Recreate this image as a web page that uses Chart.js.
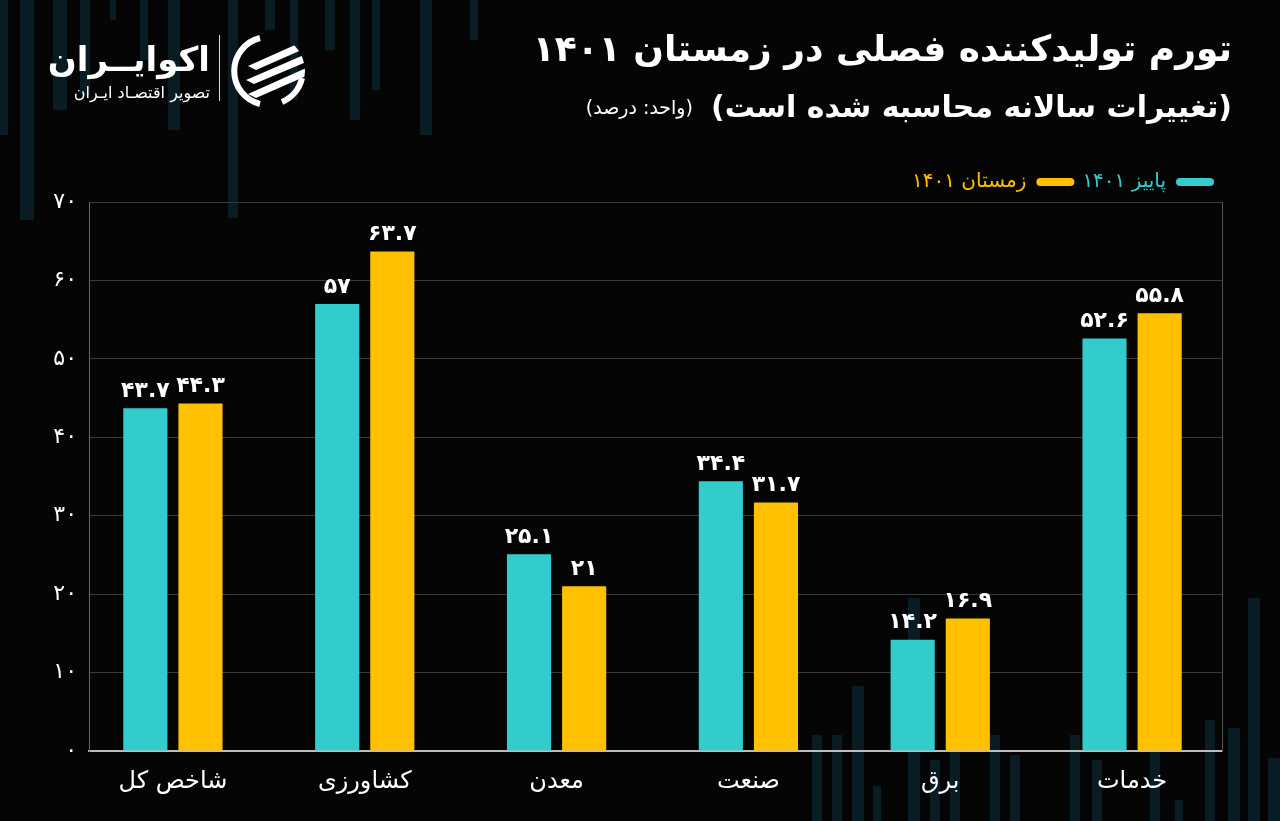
<!DOCTYPE html>
<html lang="fa">
<head>
<meta charset="utf-8">
<title>تورم تولیدکننده فصلی</title>
<script src="https://cdn.jsdelivr.net/npm/chart.js@4"></script>
<style>
  html, body { margin: 0; padding: 0; background: #050505; }
  #wrap { position: relative; width: 1280px; height: 821px; overflow: hidden; background: #050505; font-family: "DejaVu Sans", sans-serif; }
  #chart { position: absolute; left: 0; top: 0; }
  .deco { position: absolute; background: #0a1c23; }
  .title { position: absolute; right: 48px; top: 28px; color: #fff; font-weight: bold; font-size: 36px; direction: rtl; white-space: nowrap; }
  .subtitle { position: absolute; right: 48px; top: 89px; color: #fff; font-weight: bold; font-size: 30px; direction: rtl; white-space: nowrap; }
  .subtitle small { font-size: 19px; font-weight: normal; margin-right: 18px; vertical-align: 3px; }
  .brand { position: absolute; left: 40px; top: 36px; color: #fff; direction: rtl; text-align: right; width: 170px; }
  .brand .name { font-size: 34px; font-weight: bold; line-height: 46px; white-space: nowrap; }
  .brand .tag { font-size: 16px; line-height: 22px; white-space: nowrap; }
  .sep { position: absolute; left: 219px; top: 35px; width: 1px; height: 66px; background: #ddd; }
  #logo { position: absolute; left: 230px; top: 32px; }
</style>
</head>
<body>
<div id="wrap">
  <div id="decoLayer"></div>
  <canvas id="chart" width="1280" height="821"></canvas>
  <div class="brand"><div class="name">اکوایــران</div><div class="tag">تصویر اقتصـاد ایـران</div></div>
  <div class="sep"></div>
  <svg id="logo" width="78" height="78" viewBox="0 0 78 78">
    <defs><clipPath id="c"><circle cx="39" cy="39" r="36"/></clipPath></defs>
    <path d="M30 6 A34 34 0 0 0 30 72" fill="none" stroke="#fff" stroke-width="6"/>
    <path d="M52 70 A34 34 0 0 0 72 46" fill="none" stroke="#fff" stroke-width="6"/>
    <g clip-path="url(#c)" fill="#fff">
      <path d="M18 34 L76 8 L76 16 L26 38 Z"/>
      <path d="M16 48 L76 22 L76 30 L24 52 Z"/>
      <path d="M18 62 L76 36 L76 44 L26 66 Z"/>
    </g>
  </svg>
  <div class="title">تورم تولیدکننده فصلی در زمستان ۱۴۰۱</div>
  <div class="subtitle">(تغییرات سالانه محاسبه شده است)<small>(واحد: درصد)</small></div>
</div>
<script>
var categories = ['شاخص کل', 'کشاورزی', 'معدن', 'صنعت', 'برق', 'خدمات'];
var autumnLabel = 'پاییز ۱۴۰۱';
var winterLabel = 'زمستان ۱۴۰۱';
var autumnValues = [43.7, 57, 25.1, 34.4, 14.2, 52.6];
var winterValues = [44.3, 63.7, 21, 31.7, 16.9, 55.8];
var yTicks = [0, 10, 20, 30, 40, 50, 60, 70];

var TEAL = '#33cccc';
var YELLOW = '#ffc000';

// background strips (decoration only): [left, width, top, height]
var decoStrips = [
  [0, 8, 0, 135], [20, 14, 0, 220], [53, 14, 0, 110], [80, 10, 0, 95], [110, 6, 0, 20],
  [140, 8, 0, 60], [168, 12, 0, 130], [228, 10, 0, 218], [265, 10, 0, 30], [290, 8, 0, 100],
  [325, 10, 0, 50], [350, 10, 0, 120], [372, 8, 0, 90], [420, 12, 0, 135], [470, 8, 0, 40],
  [812, 10, 735, 86], [832, 10, 735, 86], [852, 12, 686, 135], [873, 8, 786, 35],
  [908, 12, 598, 223], [930, 10, 760, 61], [950, 10, 700, 121], [990, 10, 735, 86],
  [1010, 10, 755, 66], [1070, 10, 735, 86], [1092, 10, 760, 61], [1150, 10, 740, 81],
  [1175, 8, 800, 21], [1205, 10, 720, 101], [1228, 12, 728, 93], [1248, 12, 598, 223],
  [1268, 12, 758, 63]
];
var decoLayer = document.getElementById('decoLayer');
decoStrips.forEach(function (s) {
  var d = document.createElement('div');
  d.className = 'deco';
  d.style.left = s[0] + 'px';
  d.style.width = s[1] + 'px';
  d.style.top = s[2] + 'px';
  d.style.height = s[3] + 'px';
  decoLayer.appendChild(d);
});

function faDigits(v) {
  return String(v).replace(/\d/g, function (d) {
    return '۰۱۲۳۴۵۶۷۸۹'.charAt(Number(d));
  });
}

var valueLabels = {
  id: 'valueLabels',
  afterDatasetsDraw: function (chart) {
    var ctx = chart.ctx;
    ctx.save();
    ctx.fillStyle = '#ffffff';
    ctx.font = 'bold 22px "DejaVu Sans"';
    ctx.textAlign = 'center';
    ctx.textBaseline = 'bottom';
    chart.data.datasets.forEach(function (ds, i) {
      chart.getDatasetMeta(i).data.forEach(function (bar, j) {
        ctx.fillText(faDigits(ds.data[j]), bar.x, bar.y - 6);
      });
    });
    ctx.restore();
  }
};

// the category band in the original runs a little wider than the gridded box
var widenCategories = {
  id: 'widenCategories',
  afterLayout: function (chart) {
    var x = chart.scales.x;
    x._startPixel -= 12;
    x._length += 18;
    x._endPixel = x._startPixel + x._length;
  }
};

new Chart(document.getElementById('chart'), {
  type: 'bar',
  data: {
    labels: categories,
    datasets: [
      { label: autumnLabel, data: autumnValues, backgroundColor: TEAL },
      { label: winterLabel, data: winterValues, backgroundColor: YELLOW }
    ]
  },
  options: {
    responsive: false,
    animation: false,
    categoryPercentage: 0.575,
    barPercentage: 0.8,
    layout: { padding: { top: 164, left: 0, right: 0, bottom: 0 } },
    plugins: {
      legend: {
        position: 'top',
        align: 'start',
        fullSize: false,
        rtl: true,
        textDirection: 'rtl',
        labels: {
          boxWidth: 38,
          boxHeight: 8,
          padding: 8,
          useBorderRadius: true,
          borderRadius: 4,
          font: { family: 'DejaVu Sans', size: 20 },
          generateLabels: function (chart) {
            return chart.data.datasets.map(function (ds, i) {
              return {
                text: ds.label,
                fillStyle: ds.backgroundColor,
                strokeStyle: ds.backgroundColor,
                fontColor: ds.backgroundColor,
                lineWidth: 0,
                borderRadius: 4,
                datasetIndex: i
              };
            });
          }
        }
      },
      tooltip: { enabled: false }
    },
    scales: {
      x: {
        grid: { display: false },
        border: { display: true, color: '#bdbdbd', width: 2 },
        ticks: { color: '#ffffff', padding: 8, font: { family: 'DejaVu Sans', size: 24 } },
        afterFit: function (scale) { scale.height = 70; }
      },
      y: {
        min: 0,
        max: 70,
        afterBuildTicks: function (scale) {
          scale.ticks = yTicks.map(function (v) { return { value: v }; });
        },
        grid: { color: '#3a3a3a', lineWidth: 1, drawTicks: false },
        border: { display: true, color: '#666666', width: 1 },
        ticks: {
          color: '#ffffff',
          padding: 12,
          font: { family: 'DejaVu Sans', size: 22 },
          callback: function (value) { return faDigits(value); }
        },
        afterFit: function (scale) { scale.width = 89; }
      },
      yRight: {
        position: 'right',
        min: 0,
        max: 70,
        grid: { display: false },
        border: { display: true, color: '#555555', width: 1 },
        ticks: { display: false },
        afterFit: function (scale) { scale.width = 58; }
      }
    }
  },
  plugins: [widenCategories, valueLabels]
});
</script>
</body>
</html>
